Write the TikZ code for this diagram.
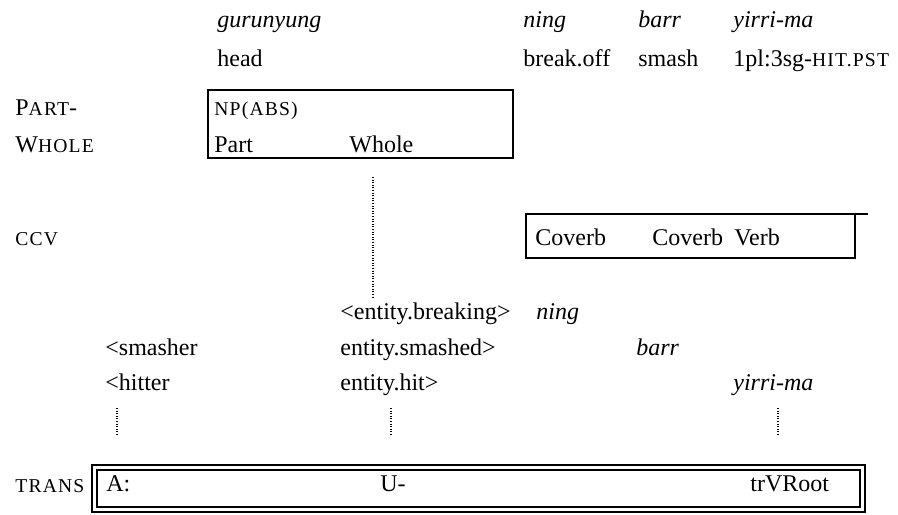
\documentclass[tikz,border=0pt]{standalone}
\usepackage{fontspec}
\setmainfont{Liberation Serif}
\usepackage{tikz}
\newcommand{\sca}[1]{{\fontsize{9.8}{12}\selectfont\addfontfeature{LetterSpace=6}#1}}

\begin{document}
\begin{tikzpicture}[x=0.5pt,y=-0.5pt,
    font=\fontsize{12}{14}\selectfont,
    wd/.style={anchor=base west,inner sep=0pt},
    frame/.style={line width=0.6pt},
    link/.style={line width=0.7pt,dash pattern=on 0.5pt off 0.8pt}]
    \useasboundingbox (0,0) rectangle (898,514);
    \node[wd] (t1) at (217,27) {\itshape gurunyung};
    \node[wd] (t2) at (523,27) {\itshape ning};
    \node[wd] (t3) at (638,27) {\itshape barr};
    \node[wd] (t4) at (733,27) {\itshape yirri-ma};
    \node[wd] (g1) at (217,66) {head};
    \node[wd] (g2) at (523,66) {break.off};
    \node[wd] (g3) at (638,66) {smash};
    \node[wd] (g4) at (733,66) {1pl:3sg-\sca{HIT.PST}};
    \node[wd] (pw1) at (15,115) {P\sca{ART}-};
    \node[wd] (pw2) at (15,152) {W\sca{HOLE}};
    \draw[frame] (208,90) rectangle (513,158);
    \node[wd] (np) at (214,115) {\sca{NP(ABS)}};
    \node[wd] (pt) at (214,152) {Part};
    \node[wd] (wh) at (349,152) {Whole};
    \node[wd] (ccv) at (15,245) {\sca{CCV}};
    \draw[frame] (868,214) -- (526,214) -- (526,258) -- (855,258) -- (855,214);
    \node[wd] (c1) at (535,245) {Coverb};
    \node[wd] (c2) at (652,245) {Coverb};
    \node[wd] (c3) at (734,245) {Verb};
    \coordinate (d1) at (373,177);
    \coordinate (d2) at (373,297);
    \draw[link] (d1) -- (d2);
    \node[wd] (e1) at (340,319) {<entity.breaking>};
    \node[wd] (e2) at (536,319) {\itshape ning};
    \node[wd] (s1) at (105,355) {<smasher};
    \node[wd] (s2) at (340,355) {entity.smashed>};
    \node[wd] (s3) at (636,355) {\itshape barr};
    \node[wd] (h1) at (105,390) {<hitter};
    \node[wd] (h2) at (340,390) {entity.hit>};
    \node[wd] (h3) at (733,390) {\itshape yirri-ma};
    \coordinate (a1) at (117,408);
    \coordinate (a2) at (117,436);
    \coordinate (u1) at (391,408);
    \coordinate (u2) at (391,436);
    \coordinate (v1) at (778,408);
    \coordinate (v2) at (778,436);
    \draw[link] (a1) -- (a2);
    \draw[link] (u1) -- (u2);
    \draw[link] (v1) -- (v2);
    \node[wd] (tr) at (15,492) {\sca{TRANS}};
    \draw[line width=1pt] (92,465) rectangle (865,512);
    \draw[frame] (97,470) rectangle (860,507);
    \node[wd] (r1) at (106,491) {A:};
    \node[wd] (r2) at (380,491) {U-};
    \node[wd] (r3) at (750,491) {trVRoot};
\end{tikzpicture}
\end{document}
